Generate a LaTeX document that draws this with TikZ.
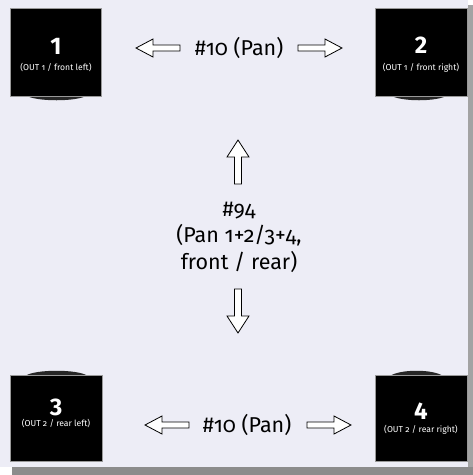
\documentclass[tikz,border=0pt]{standalone}
\usepackage{fontspec}
\setmainfont{Fira Sans}[Numbers=OldStyle]
\newfontfamily\boxdigits{Fira Sans}[Numbers=Lining]
\definecolor{bgcol}{RGB}{237,237,246}
\definecolor{shadowcol}{RGB}{140,140,140}
\tikzset{
  spk/.style={fill=black, draw=black!40, line width=0.6pt},
  lens/.style={fill=black!85},
  bignum/.style={text=white, font=\boxdigits\bfseries\fontsize{24}{26}\selectfont, inner sep=0pt},
  subt/.style={text=white, font=\fontsize{8.6}{9}\selectfont, inner sep=0pt},
  lbl/.style={font=\fontsize{21.5}{26.5}\selectfont, inner sep=0pt, align=center},
  pics/oarr/.style n args={2}{code={
    \draw[black, fill=white, line width=0.8pt, line join=miter]
      (-22,-#2) -- (5,-#2) -- (5,-#1) -- (22,0) -- (5,#1) -- (5,#2) -- (-22,#2) -- cycle;
  }},
}
\begin{document}
\begin{tikzpicture}[x=1pt,y=-1pt]
\useasboundingbox (0,0) rectangle (473,475);
\fill[white] (0,0) rectangle (473,475);
\fill[shadowcol!80] (468,5) rectangle (473,475);
\fill[shadowcol] (12,467) rectangle (473,475);
\fill[bgcol] (0,0) rectangle (468,467);
% lenses
\fill[lens] (25,95) .. controls (35,102) and (78,102) .. (88,95) -- cycle;
\fill[lens] (390,95) .. controls (400,102) and (438,102) .. (448,95) -- cycle;
\fill[lens] (25,376) .. controls (35,369) and (78,369) .. (88,376) -- cycle;
\fill[lens] (390,376) .. controls (400,369) and (433,369) .. (443,376) -- cycle;
% speakers
\draw[spk] (10,8) rectangle (101,96);
\draw[spk] (375,8) rectangle (467,96);
\draw[spk] (10,375) rectangle (102,461);
\draw[spk] (375,375) rectangle (467,461);
\node[bignum] (n1) at (56,46) {1};
\node[subt] (s1) at (56,67) {(OUT 1 / front left)};
\node[bignum] (n2) at (421,45) {2};
\node[subt] (s2) at (421,68) {(OUT 1 / front right)};
\node[bignum] (n3) at (56,407.5) {3};
\node[subt] (s3) at (56,423) {(OUT 2 / rear left)};
\node[bignum] (n4) at (421,411) {4};
\node[subt] (s4) at (421,430) {(OUT 2 / rear right)};
% labels
\node[lbl] (top) at (239,48) {\#10 (Pan)};
\node[lbl] (bot) at (247,425) {\#10 (Pan)};
\node[lbl] (mid) at (239,237) {\#94\\(Pan 1+2/3+4,\\front / rear)};
% arrows
\pic[rotate=180] at (158,48) {oarr={9}{3}};
\pic at (320,48) {oarr={9}{3}};
\pic[rotate=180] at (167,425) {oarr={9}{3}};
\pic at (329,425) {oarr={9}{3}};
\pic[rotate=90] at (238,162) {oarr={11}{3.5}};
\pic[rotate=-90] at (238,311) {oarr={11}{3.5}};
\end{tikzpicture}
\end{document}
